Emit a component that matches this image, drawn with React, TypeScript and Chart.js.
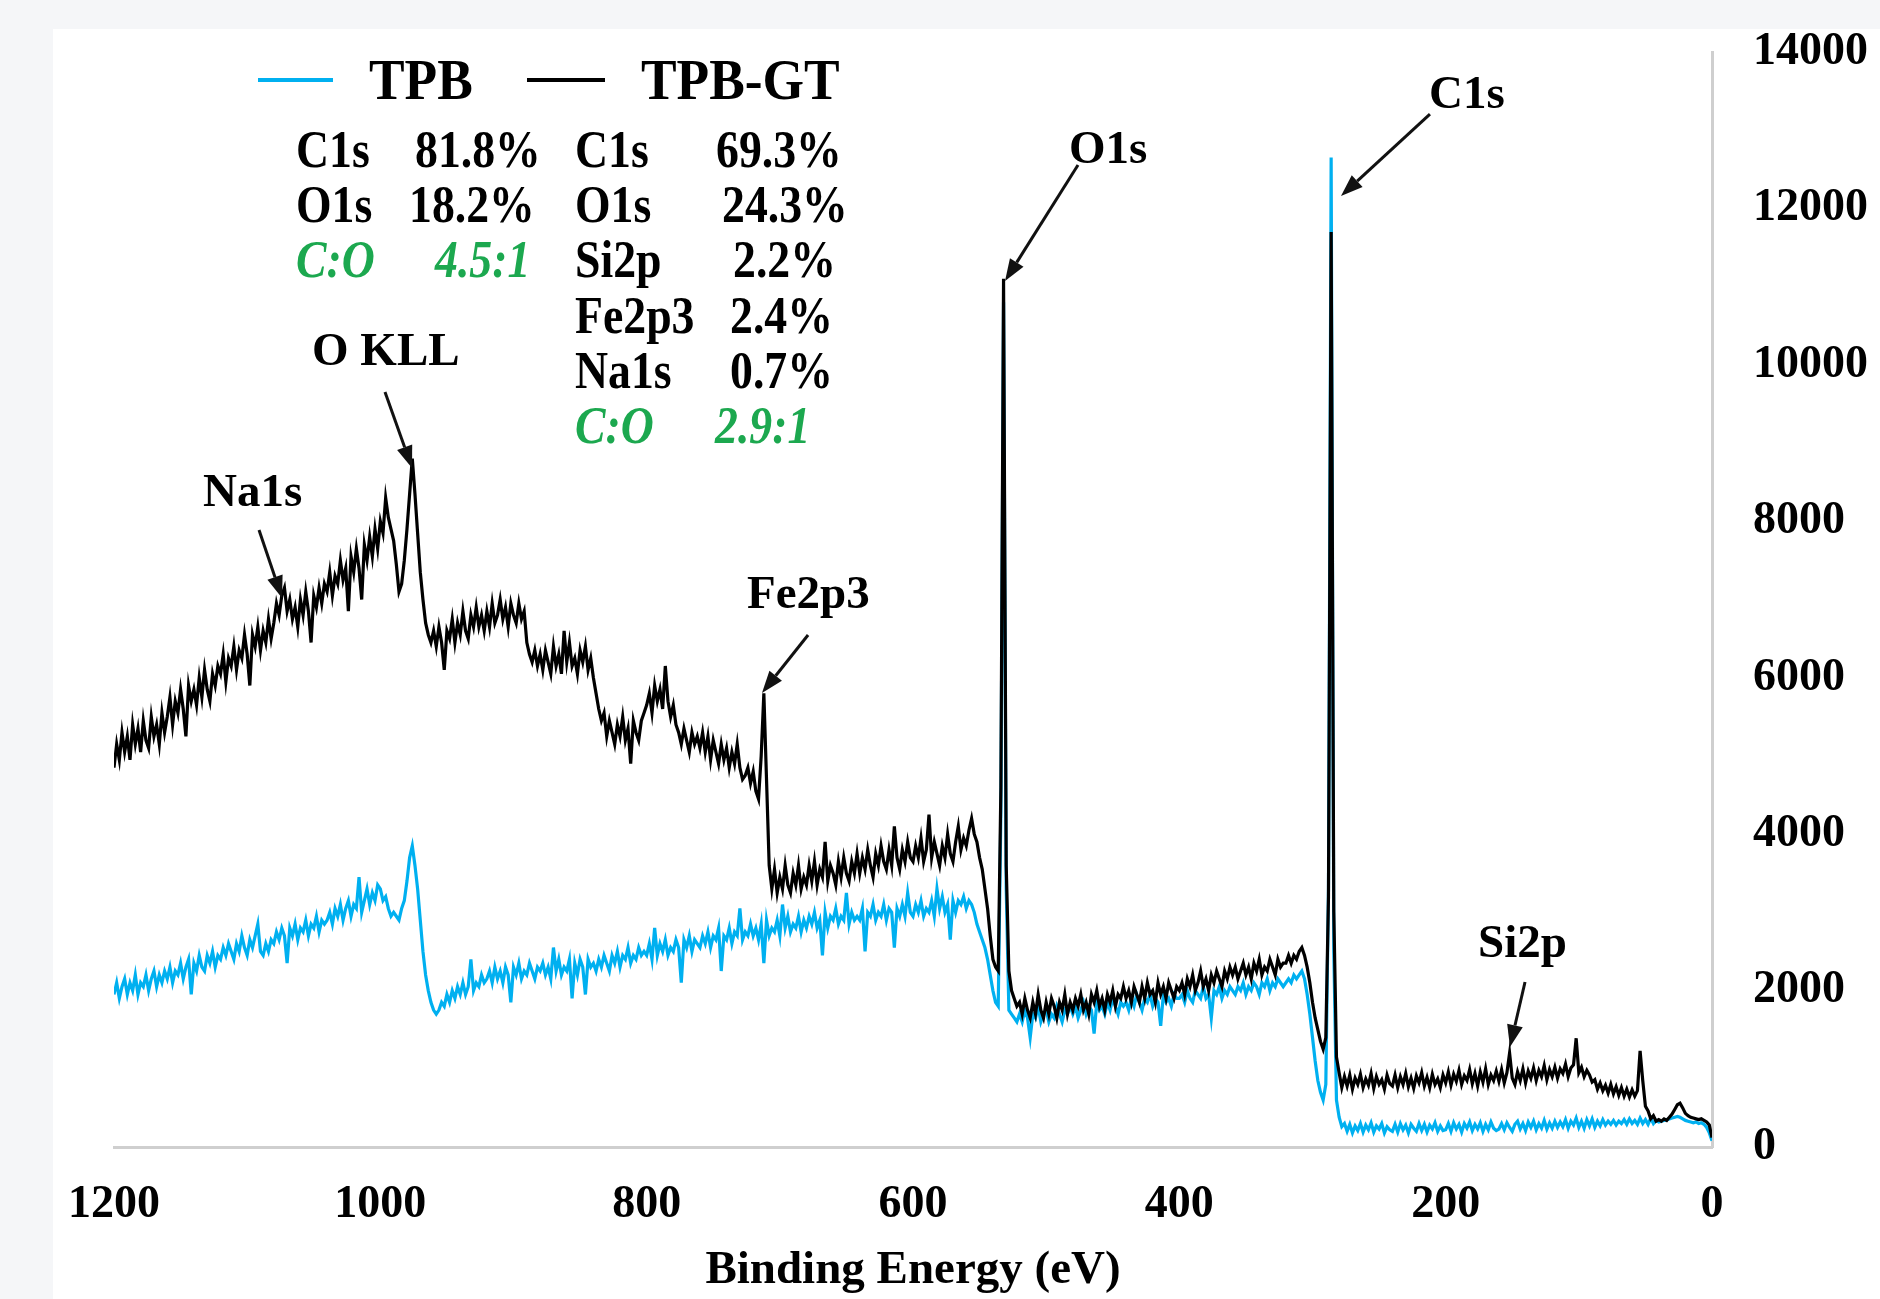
import React, { useEffect, useRef } from "react";
import { Chart, registerables } from "chart.js";

Chart.register(...registerables);

const FONT = "'Liberation Serif', 'Times New Roman', Times, serif";

// Binding-energy grid (eV), from 1200 down to 0 in 2 eV steps
const startEnergy = 1200;
const energyStep = 2;

// TPB-GT counts (black), one value per grid energy, 1200 -> 0 eV (20 values = 40 eV per row)
const tpbGtCounts = [
  4850, 5150, 4950, 5300, 5050, 5250, 4950, 5400, 5150, 5350, 5050, 5450, 5200, 5100, 5500, 5250, 5400, 5150, 5550, 5300,
  5500, 5750, 5400, 5700, 5550, 5850, 5600, 5250, 5900, 5700, 5850, 5650, 6000, 5750, 6100, 5850, 5700, 6050, 5900, 6150,
  6050, 6300, 5950, 6250, 6150, 6400, 6100, 6350, 6250, 6550, 6300, 5900, 6550, 6400, 6650, 6350, 6600, 6450, 6750, 6500,
  6700, 6950, 6800, 7050, 7150, 6850, 7000, 6750, 6900, 6650, 7000, 6800, 7100, 6850, 6450, 7050, 6900, 7150, 6950, 7200,
  7100, 7350, 7050, 7300, 7200, 7500, 7250, 7400, 6850, 7550, 7350, 7650, 7400, 7000, 7700, 7500, 7800, 7550, 7900, 7650,
  8000, 7850, 8300, 8050, 7900, 7750, 7450, 7100, 7200, 7500, 7900, 8350, 8800, 8350, 7850, 7350, 7000, 6700, 6550, 6450,
  6600, 6400, 6650, 6450, 6100, 6600, 6500, 6750, 6450, 6700, 6550, 6850, 6600, 6500, 6800, 6650, 6900, 6650, 6800, 6600,
  6850, 6650, 6950, 6700, 6800, 7000, 6750, 6900, 6650, 6950, 6800, 6700, 6950, 6750, 6850, 6450, 6300, 6200, 6350, 6150,
  6300, 6100, 6350, 6200, 6050, 6400, 6150, 6300, 6050, 6600, 6200, 6450, 6150, 6250, 6050, 6350, 6200, 6400, 6100, 6250,
  6000, 5800, 5600, 5450, 5550, 5250, 5450, 5300, 5150, 5400, 5250, 5500, 5200, 5350, 4900, 5450, 5300, 5200, 5450, 5550,
  5650, 5800, 5550, 5900, 5700, 5850, 5600, 6150, 5700, 5500, 5650, 5400, 5300, 5150, 5350, 5200, 5050, 5300, 5150, 5250,
  5100, 5300, 5050, 5250, 4950, 5200, 5050, 4900, 5150, 4950, 5100, 4850, 5050, 4900, 5150, 4850, 4700, 4750, 4850, 4650,
  4800, 4550, 4450, 5000, 5800, 4700, 3600, 3300, 3550, 3250, 3450, 3300, 3600, 3350, 3250, 3500, 3350, 3600, 3300, 3450,
  3350, 3600, 3400, 3650, 3350, 3550, 3450, 3900, 3400, 3600, 3500, 3350, 3650, 3450, 3700, 3500, 3400, 3650, 3500, 3750,
  3500, 3700, 3550, 3800, 3600, 3450, 3750, 3600, 3850, 3650, 3550, 3800, 3600, 4100, 3700, 3550, 3800, 3650, 3900, 3700,
  3650, 3850, 3700, 3950, 3650, 3800, 4250, 3700, 3900, 3750, 3600, 3850, 3700, 4000, 3750, 3650, 3900, 4100, 3800, 3950,
  3850, 4050, 4200, 4000, 3900, 3700, 3550, 3300, 3050, 2700, 2400, 2300, 2250, 4600, 11100, 3600, 2250, 2000, 1900, 1800,
  1850, 1700, 1900, 1750, 1650, 1850, 1700, 1950, 1750, 1650, 1850, 1700, 1900, 1800, 1650, 1850, 1750, 1950, 1700, 1850,
  1750, 1900, 1800, 1950, 1750, 1850, 1700, 1950, 1850, 2000, 1800, 1900, 1750, 1950, 1850, 2000, 1800, 1950, 1900, 2050,
  1900, 2000, 1850, 2050, 1950, 1850, 2050, 1900, 2100, 1950, 2000, 1850, 2100, 1950, 2050, 1900, 2100, 2000, 1900, 2050,
  2000, 2100, 1950, 2150, 2050, 2200, 2000, 2100, 2250, 2050, 2150, 2000, 2200, 2100, 2250, 2150, 2050, 2250, 2150, 2300,
  2200, 2300, 2150, 2250, 2350, 2200, 2300, 2150, 2350, 2250, 2400, 2200, 2300, 2250, 2400, 2300, 2200, 2400, 2300, 2350,
  2350, 2450, 2350, 2450, 2400, 2500, 2550, 2450, 2300, 2100, 1850, 1650, 1500, 1350, 1250, 1400, 3200, 11700, 3000, 1150,
  950, 760, 900, 780, 920, 740, 880, 800, 930, 760, 870, 790, 940, 750, 900, 800, 860, 740, 920, 810,
  780, 920, 760, 900, 800, 940, 770, 880, 750, 910, 820, 950, 780, 890, 760, 930, 800, 870, 760, 920,
  820, 960, 790, 930, 840, 980, 800, 910, 850, 990, 810, 940, 780, 960, 830, 1000, 800, 920, 850, 970,
  840, 990, 820, 950, 1200, 880, 800, 960, 850, 1000, 820, 970, 880, 1010, 850, 980, 900, 1040, 860, 990,
  900, 1020, 880, 1000, 940, 1060, 900, 1010, 1050, 1390, 950, 1020, 900, 980, 920, 830, 860, 740, 820, 720,
  790, 690, 800, 680, 770, 660, 760, 650, 740, 640, 730, 650, 720, 1230, 850, 520, 460, 360, 400, 330,
  350, 330, 360, 340, 380, 420, 480, 540, 560, 500, 430, 400, 380, 370, 360, 350, 360, 340, 320, 280,
  120,
];

// TPB counts (blue), one value per grid energy, 1200 -> 0 eV (20 values = 40 eV per row)
const tpbCounts = [
  1950, 2100, 1900, 2050, 2150, 1950, 2100, 2000, 2200, 1950, 2100, 2050, 2200, 2000, 2150, 2250, 2050, 2200, 2100, 2250,
  2150, 2300, 2100, 2250, 2200, 2350, 2150, 2300, 2400, 1950, 2350, 2250, 2450, 2300, 2250, 2450, 2350, 2500, 2300, 2450,
  2400, 2550, 2450, 2600, 2500, 2400, 2600, 2500, 2700, 2550, 2450, 2650, 2550, 2700, 2850, 2500, 2450, 2600, 2500, 2650,
  2600, 2750, 2650, 2800, 2700, 2350, 2800, 2700, 2850, 2650, 2800, 2750, 2900, 2700, 2850, 2800, 2950, 2750, 2900, 2850,
  2900, 3000, 2850, 3050, 2950, 3100, 2900, 3050, 3150, 2950, 3100, 3050, 3450, 3000, 3150, 3300, 3100, 3250, 3150, 3350,
  3300, 3150, 3200, 3050, 2950, 3000, 2950, 2900, 3050, 3150, 3400, 3700, 3850, 3600, 3300, 2900, 2500, 2200, 2000, 1850,
  1750, 1700, 1750, 1850, 1800, 1950, 1850, 2000, 1900, 2050, 1950, 2100, 1950, 2050, 2400, 2000, 2100, 2050, 2200, 2100,
  2150, 2250, 2100, 2300, 2150, 2250, 2100, 2300, 2200, 1850, 2300, 2200, 2350, 2150, 2250, 2200, 2350, 2250, 2150, 2300,
  2250, 2350, 2200, 2300, 2150, 2550, 2250, 2400, 2200, 2300, 2250, 2400, 1900, 2350, 2200, 2400, 2300, 1950, 2400, 2300,
  2350, 2250, 2400, 2300, 2450, 2350, 2250, 2450, 2350, 2500, 2300, 2450, 2400, 2550, 2350, 2450, 2400, 2550, 2450, 2500,
  2450, 2600, 2400, 2800, 2450, 2600, 2500, 2650, 2450, 2550, 2500, 2650, 2550, 2100, 2650, 2550, 2700, 2500, 2650, 2600,
  2550, 2700, 2600, 2750, 2550, 2700, 2650, 2800, 2250, 2700, 2650, 2800, 2600, 2750, 2700, 3050, 2650, 2750, 2700, 2850,
  2700, 2800, 2650, 2850, 2350, 2900, 2700, 2800, 2750, 2900, 2700, 3100, 2800, 2950, 2750, 2850, 2800, 2950, 2750, 2900,
  2800, 2950, 2850, 3000, 2800, 2900, 2450, 3000, 2800, 2950, 2900, 3050, 2850, 2950, 2900, 3250, 2850, 3000, 2900, 2950,
  2900, 3050, 2500, 3000, 2950, 3100, 2900, 3000, 2950, 3100, 2900, 3050, 3000, 2550, 3050, 2950, 3100, 2950, 3250, 3000,
  2950, 3100, 3000, 3150, 2950, 3050, 3000, 3150, 2950, 3300, 3050, 3200, 3000, 3100, 2650, 3150, 3000, 3150, 3100, 3200,
  3050, 3150, 3100, 3000, 2850, 2750, 2650, 2550, 2400, 2200, 2000, 1850, 1800, 4300, 10800, 3300, 1750, 1700, 1650, 1600,
  1700, 1600, 1750, 1650, 1400, 1700, 1650, 1800, 1600, 1700, 1750, 1600, 1700, 1650, 1800, 1700, 1600, 1750, 1700, 1800,
  1700, 1800, 1650, 1750, 1850, 1700, 1800, 1750, 1450, 1850, 1750, 1800, 1700, 1850, 1750, 1900, 1800, 1700, 1850, 1800,
  1850, 1750, 1900, 1800, 1950, 1850, 1750, 1900, 1850, 1950, 1800, 1900, 1850, 1550, 1950, 1850, 1900, 1800, 1950, 1900,
  1900, 1950, 1850, 2000, 1900, 1850, 2000, 1950, 1900, 2050, 1900, 1950, 1650, 2000, 1950, 2050, 1900, 2000, 1950, 2050,
  2000, 1950, 2050, 2000, 2100, 1950, 2050, 2000, 2100, 2050, 1950, 2100, 2050, 2150, 2000, 2100, 2050, 2150, 2100, 2050,
  2100, 2150, 2100, 2200, 2150, 2200, 2250, 2150, 1950, 1700, 1400, 1100, 850, 700, 600, 800, 3300, 12650, 2500, 600,
  380, 260, 300, 200, 290, 180, 270, 210, 300, 190, 280, 220, 310, 190, 270, 230, 300, 180, 260, 220,
  200, 290, 190, 300, 220, 280, 180, 290, 240, 200, 300, 210, 290, 190, 280, 230, 310, 200, 270, 210,
  220, 300, 200, 310, 230, 290, 190, 300, 240, 320, 210, 290, 230, 310, 200, 290, 220, 320, 240, 210,
  230, 300, 220, 310, 250, 200, 290, 330, 230, 300, 210, 320, 250, 330, 220, 300, 240, 340, 230, 310,
  240, 330, 250, 320, 260, 350, 240, 330, 280, 370, 250, 330, 240, 350, 270, 360, 250, 330, 270, 350,
  280, 330, 290, 340, 280, 330, 300, 350, 290, 360, 300, 340, 290, 370, 300, 350, 290, 370, 300, 340,
  320, 330, 340, 350, 360, 370, 380, 390, 380, 360, 340, 330, 320, 310, 320, 300, 310, 290, 250, 180,
  80,
];

const energies = tpbCounts.map((_, i) => startEnergy - energyStep * i);

// Tick values
const xTicks = [0, 200, 400, 600, 800, 1000, 1200];
const yTicks = [0, 2000, 4000, 6000, 8000, 10000, 12000, 14000];

// Composition table text
const tpbLabels = ["C1s", "O1s", "C:O"];
const tpbValues = ["81.8%", "18.2%", "4.5:1"];
const tpbGtLabels = ["C1s", "O1s", "Si2p", "Fe2p3", "Na1s", "C:O"];
const tpbGtValues = ["69.3%", "24.3%", "2.2%", "2.4%", "0.7%", "2.9:1"];

// Peak annotation labels
const peakLabels = ["C1s", "O1s", "O KLL", "Na1s", "Fe2p3", "Si2p"];

// Annotation anchors in data space [eV, counts]: label left/baseline, arrow start, arrow tip
const peakAnchors = [
  { text: [212.5, 13284], from: [211.8, 13207], tip: [278.6, 12159] },
  { text: [482.9, 12581], from: [476.1, 12555], tip: [530.9, 11072] },
  { text: [1051.3, 9998], from: [996.5, 9653], tip: [976.2, 8681] },
  { text: [1133.2, 8195], from: [1091.1, 7889], tip: [1073.8, 7019] },
  { text: [724.7, 6891], from: [678.8, 6546], tip: [713.4, 5805] },
  { text: [175.7, 2429], from: [140.4, 2110], tip: [151.7, 1279] },
];

// Pixel layout for the legend and table
const layout = {
  legendLineY: 80,
  legendBaseline: 99,
  legendItems: [
    { lineX0: 258, lineX1: 333, textX: 369 },
    { lineX0: 527, lineX1: 605, textX: 641 },
  ],
  rowBaselines: [167, 222, 277, 333, 388, 443],
  col1LabelX: 296,
  col1ValueX: [415, 409, 435],
  col2LabelX: 575,
  col2ValueX: [716, 722, 733, 730, 730, 715],
};

const GREEN = "#1ca84f";

function drawScaledText(
  ctx: CanvasRenderingContext2D,
  text: string,
  x: number,
  y: number,
  font: string,
  color: string,
  sx: number
) {
  ctx.save();
  ctx.font = font;
  ctx.fillStyle = color;
  ctx.textAlign = "left";
  ctx.textBaseline = "alphabetic";
  ctx.translate(x, y);
  ctx.scale(sx, 1);
  ctx.fillText(text, 0, 0);
  ctx.restore();
}

function drawArrow(
  ctx: CanvasRenderingContext2D,
  fx: number,
  fy: number,
  tx: number,
  ty: number
) {
  const ang = Math.atan2(ty - fy, tx - fx);
  const headLen = 22;
  const headHalf = 8;
  const bx = tx - headLen * Math.cos(ang);
  const by = ty - headLen * Math.sin(ang);
  ctx.save();
  ctx.strokeStyle = "#111";
  ctx.fillStyle = "#111";
  ctx.lineWidth = 3;
  ctx.beginPath();
  ctx.moveTo(fx, fy);
  ctx.lineTo(bx, by);
  ctx.stroke();
  ctx.beginPath();
  ctx.moveTo(tx, ty);
  ctx.lineTo(bx + headHalf * Math.sin(ang), by - headHalf * Math.cos(ang));
  ctx.lineTo(bx - headHalf * Math.sin(ang), by + headHalf * Math.cos(ang));
  ctx.closePath();
  ctx.fill();
  ctx.restore();
}

const backgroundPlugin = {
  id: "pageBackground",
  beforeDraw(chart: any) {
    const ctx = chart.ctx as CanvasRenderingContext2D;
    ctx.save();
    ctx.fillStyle = "#f5f6f8";
    ctx.fillRect(0, 0, chart.width, chart.height);
    ctx.fillStyle = "#ffffff";
    ctx.fillRect(53, 29, chart.width - 53, chart.height - 29);
    ctx.restore();
  },
};

const overlayPlugin = {
  id: "overlay",
  afterDraw(chart: any) {
    const ctx = chart.ctx as CanvasRenderingContext2D;
    const xs = chart.scales.x;
    const ys = chart.scales.y;

    // Legend
    chart.data.datasets.forEach((ds: any, i: number) => {
      const item = layout.legendItems[i];
      ctx.save();
      ctx.strokeStyle = ds.borderColor;
      ctx.lineWidth = 4;
      ctx.beginPath();
      ctx.moveTo(item.lineX0, layout.legendLineY);
      ctx.lineTo(item.lineX1, layout.legendLineY);
      ctx.stroke();
      ctx.restore();
      drawScaledText(ctx, ds.label, item.textX, layout.legendBaseline, `bold 58px ${FONT}`, "#000", 0.92);
    });

    // Composition table
    const normal = `bold 52px ${FONT}`;
    const italic = `italic bold 52px ${FONT}`;
    tpbLabels.forEach((lab, i) => {
      const ratio = lab === "C:O";
      const y = layout.rowBaselines[i];
      drawScaledText(ctx, lab, layout.col1LabelX, y, ratio ? italic : normal, ratio ? GREEN : "#000", 0.88);
      drawScaledText(ctx, tpbValues[i], layout.col1ValueX[i], y, ratio ? italic : normal, ratio ? GREEN : "#000", 0.88);
    });
    tpbGtLabels.forEach((lab, i) => {
      const ratio = lab === "C:O";
      const y = layout.rowBaselines[i];
      drawScaledText(ctx, lab, layout.col2LabelX, y, ratio ? italic : normal, ratio ? GREEN : "#000", 0.88);
      drawScaledText(ctx, tpbGtValues[i], layout.col2ValueX[i], y, ratio ? italic : normal, ratio ? GREEN : "#000", 0.88);
    });

    // Peak annotations
    peakLabels.forEach((lab, i) => {
      const a = peakAnchors[i];
      const tx = xs.getPixelForValue(a.text[0]);
      const ty = ys.getPixelForValue(a.text[1]);
      drawScaledText(ctx, lab, tx, ty, `bold 47px ${FONT}`, "#000", 1);
      drawArrow(
        ctx,
        xs.getPixelForValue(a.from[0]),
        ys.getPixelForValue(a.from[1]),
        xs.getPixelForValue(a.tip[0]),
        ys.getPixelForValue(a.tip[1])
      );
    });
  },
};

export default function App() {
  const canvasRef = useRef<HTMLCanvasElement | null>(null);

  useEffect(() => {
    const canvas = canvasRef.current;
    if (!canvas) return;
    const tickFont = { family: FONT, size: 46, weight: "bold" as const };
    const chart = new Chart(canvas, {
      type: "line",
      data: {
        datasets: [
          {
            label: "TPB",
            data: energies.map((e, i) => ({ x: e, y: tpbCounts[i] })),
            borderColor: "#00b0f0",
            backgroundColor: "#00b0f0",
            borderWidth: 3.2,
            pointRadius: 0,
            tension: 0,
            order: 2,
          },
          {
            label: "TPB-GT",
            data: energies.map((e, i) => ({ x: e, y: tpbGtCounts[i] })),
            borderColor: "#000000",
            backgroundColor: "#000000",
            borderWidth: 3.2,
            pointRadius: 0,
            tension: 0,
            order: 1,
          },
        ],
      },
      options: {
        responsive: false,
        animation: false,
        devicePixelRatio: 1,
        events: [],
        layout: { padding: { left: 114, top: 52, right: 0, bottom: 0 } },
        plugins: {
          legend: { display: false },
          tooltip: { enabled: false },
        },
        scales: {
          x: {
            type: "linear",
            position: "bottom",
            min: 0,
            max: 1200,
            reverse: true,
            grid: { display: false, drawTicks: false },
            border: { display: true, color: "#cfcfcf", width: 3 },
            afterBuildTicks: (s: any) => {
              s.ticks = xTicks.map((v) => ({ value: v }));
            },
            ticks: {
              padding: 31,
              color: "#000",
              font: tickFont,
              maxRotation: 0,
              autoSkip: false,
              callback: (v: any) => String(v),
            },
            title: {
              display: true,
              text: "Binding Energy (eV)",
              color: "#000",
              font: { family: FONT, size: 47, weight: "bold" },
              padding: { top: 0, bottom: 0 },
            },
            afterFit: (s: any) => {
              s.height = 152;
              s.paddingLeft = 0;
              s.paddingRight = 0;
            },
          },
          y: {
            type: "linear",
            position: "right",
            min: 0,
            max: 14000,
            grid: { display: false, drawTicks: false },
            border: { display: true, color: "#cfcfcf", width: 3 },
            afterBuildTicks: (s: any) => {
              s.ticks = yTicks.map((v) => ({ value: v }));
            },
            ticks: {
              padding: 41,
              color: "#000",
              font: tickFont,
              callback: (v: any) => String(v),
            },
            afterFit: (s: any) => {
              s.width = 168;
              s.paddingTop = 0;
              s.paddingBottom = 0;
            },
          },
        },
      },
      plugins: [backgroundPlugin, overlayPlugin],
    } as any);
    return () => chart.destroy();
  }, []);

  return (
    <div style={{ position: "absolute", left: 0, top: 0, width: 1880, height: 1299 }}>
      <canvas ref={canvasRef} width={1880} height={1299} style={{ display: "block", width: 1880, height: 1299 }} />
    </div>
  );
}
